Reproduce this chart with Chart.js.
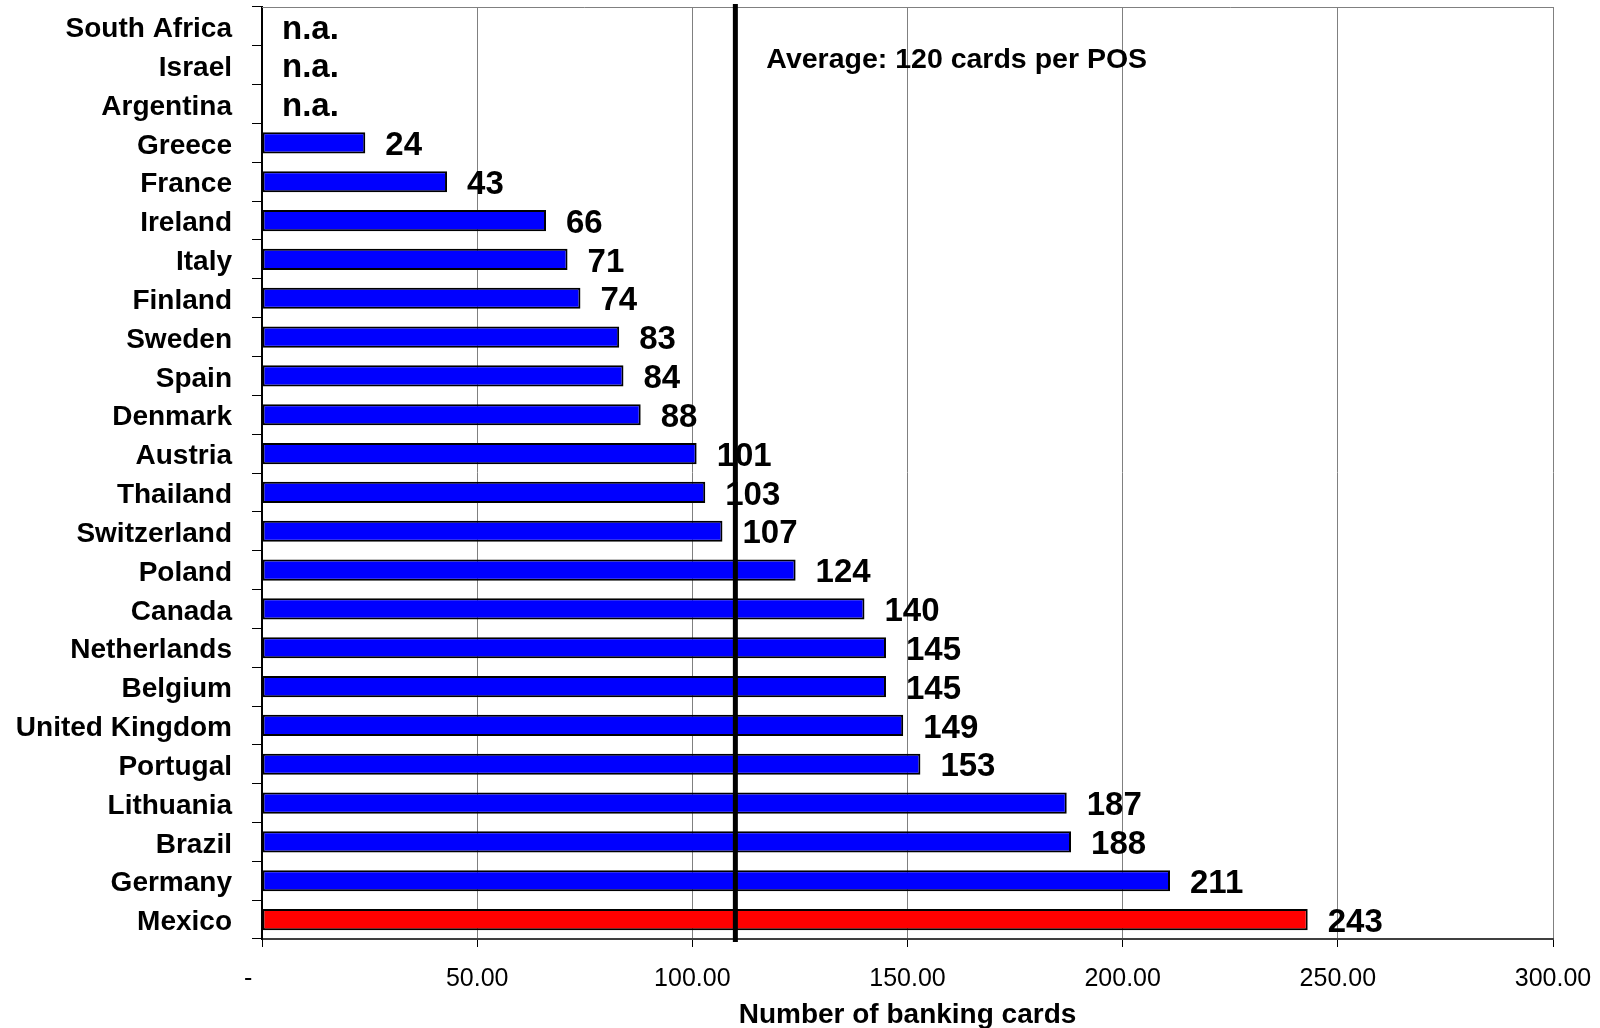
<!DOCTYPE html>
<html>
<head>
<meta charset="utf-8">
<script src="https://cdn.jsdelivr.net/npm/chart.js@4/dist/chart.umd.min.js"></script>
<style>
  html, body { margin: 0; padding: 0; background: #fff; }
  canvas { display: block; }
</style>
</head>
<body>
<canvas id="c" width="1600" height="1028"></canvas>
<script>
// Banking cards per POS terminal, by country (null = not available)
const countries = [
  'South Africa', 'Israel', 'Argentina', 'Greece', 'France', 'Ireland', 'Italy',
  'Finland', 'Sweden', 'Spain', 'Denmark', 'Austria', 'Thailand', 'Switzerland',
  'Poland', 'Canada', 'Netherlands', 'Belgium', 'United Kingdom', 'Portugal',
  'Lithuania', 'Brazil', 'Germany', 'Mexico'
];
const cardsPerPos = [
  null, null, null, 24, 43, 66, 71,
  74, 83, 84, 88, 101, 103, 107,
  124, 140, 145, 145, 149, 153,
  187, 188, 211, 243
];
const xTicks = [0, 50, 100, 150, 200, 250, 300];
const averageLine = 110;
const averageText = 'Average: 120 cards per POS';
const highlighted = 'Mexico';
const missingText = 'n.a.';
const axisTitle = 'Number of banking cards';

const FONT = '"Liberation Sans", Arial, Helvetica, sans-serif';
const barColors = countries.map(c => c === highlighted ? '#FF0000' : '#0000FF');

// Value labels, the average marker and the top frame line
const overlay = {
  id: 'overlay',
  afterDatasetsDraw(chart) {
    const { ctx, chartArea, scales } = chart;
    const xs = scales.x, ys = scales.y;

    // top frame
    ctx.save();
    ctx.strokeStyle = '#808080';
    ctx.lineWidth = 1;
    ctx.beginPath();
    ctx.moveTo(chartArea.left, chartArea.top + 0.5);
    ctx.lineTo(chartArea.right, chartArea.top + 0.5);
    ctx.stroke();

    // average line
    const ax = xs.getPixelForValue(averageLine);
    ctx.strokeStyle = '#000';
    ctx.lineWidth = 5;
    ctx.beginPath();
    ctx.moveTo(ax, chartArea.top - 3);
    ctx.lineTo(ax, chartArea.bottom + 3);
    ctx.stroke();

    // value labels
    ctx.fillStyle = '#000';
    ctx.font = 'bold 33px ' + FONT;
    ctx.textAlign = 'left';
    ctx.textBaseline = 'middle';
    cardsPerPos.forEach((v, i) => {
      const y = ys.getPixelForValue(i);
      const x = xs.getPixelForValue(v === null ? 0 : v) + 20;
      ctx.fillText(v === null ? missingText : String(v), x, y + 3);
    });

    // average caption
    ctx.font = 'bold 28.5px ' + FONT;
    ctx.fillText(averageText, ax + 31, chartArea.top + 53);
    ctx.restore();
  }
};

new Chart(document.getElementById('c'), {
  type: 'bar',
  data: {
    labels: countries,
    datasets: [{
      data: cardsPerPos,
      backgroundColor: barColors,
      borderColor: '#000',
      borderWidth: 2,
      borderSkipped: false,
      categoryPercentage: 1,
      barPercentage: 0.545
    }]
  },
  options: {
    indexAxis: 'y',
    responsive: false,
    animation: false,
    devicePixelRatio: 1,
    layout: { padding: { top: 7, right: 47, left: 0, bottom: 0 } },
    plugins: {
      legend: { display: false },
      tooltip: { enabled: false }
    },
    scales: {
      x: {
        type: 'linear',
        min: xTicks[0],
        max: xTicks[xTicks.length - 1],
        afterBuildTicks(scale) { scale.ticks = xTicks.map(v => ({ value: v })); },
        afterFit(scale) {
          scale.height = 89;
          scale.paddingLeft = 0;
          scale.paddingRight = 0;
        },
        grid: {
          color: '#808080',
          lineWidth: 1,
          drawOnChartArea: true,
          drawTicks: true,
          tickLength: 8,
          tickColor: '#000'
        },
        border: { color: '#404040', width: 2 },
        ticks: {
          color: '#000',
          padding: 17,
          maxRotation: 0,
          font: { family: FONT, size: 25 },
          callback: v => v === 0 ? '-    ' : v.toFixed(2)
        },
        title: {
          display: true,
          text: axisTitle,
          color: '#000',
          padding: { top: 0, bottom: -4 },
          font: { family: FONT, size: 28, weight: 'bold' }
        }
      },
      y: {
        type: 'category',
        afterFit(scale) {
          scale.width = 262;
          scale.paddingTop = 0;
          scale.paddingBottom = 0;
        },
        grid: {
          offset: true,
          drawOnChartArea: false,
          drawTicks: true,
          tickLength: 10,
          tickColor: '#000'
        },
        border: { color: '#000', width: 2 },
        ticks: {
          color: '#000',
          padding: 20,
          labelOffset: 3,
          autoSkip: false,
          font: { family: FONT, size: 28, weight: 'bold' }
        }
      }
    }
  },
  plugins: [overlay]
});
</script>
</body>
</html>
